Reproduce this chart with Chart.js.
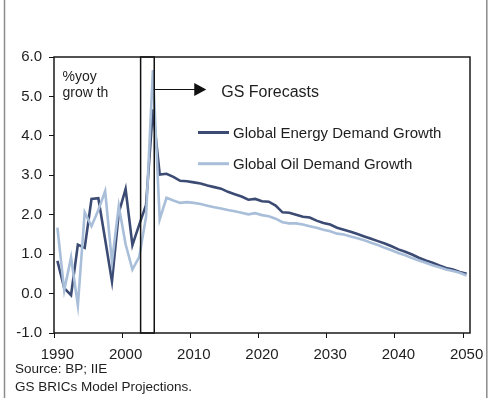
<!DOCTYPE html>
<html>
<head>
<meta charset="utf-8">
<style>
  html, body { margin: 0; padding: 0; background: #ffffff; }
  #wrap { position: relative; width: 498px; height: 398px; }
</style>
<script src="https://cdn.jsdelivr.net/npm/chart.js@4.4.1/dist/chart.umd.min.js"></script>
</head>
<body>
<div id="wrap"><canvas id="chart" width="498" height="398"></canvas></div>
<script>
// Years on the category axis, 1990 to 2050
const years = Array.from({ length: 61 }, (_, i) => String(1990 + i));

// Global energy demand growth, % yoy
const energyGrowth = [
  0.83, 0.14, -0.04, 1.24, 1.16, 2.40, 2.42, 1.37, 0.31, 2.05,
  2.65, 1.23, 1.75, 2.25, 4.67, 3.02, 3.04, 2.96, 2.86, 2.85,
  2.82, 2.79, 2.74, 2.70, 2.66, 2.58, 2.52, 2.46, 2.38, 2.40,
  2.34, 2.33, 2.23, 2.06, 2.05, 2.00, 1.95, 1.93, 1.85, 1.79,
  1.75, 1.67, 1.62, 1.57, 1.51, 1.45, 1.39, 1.33, 1.27, 1.20,
  1.12, 1.06, 0.99, 0.91, 0.84, 0.78, 0.71, 0.65, 0.61, 0.55,
  0.50
];

// Global oil demand growth, % yoy
const oilGrowth = [
  1.67, 0.08, 0.92, -0.30, 2.06, 1.71, 2.12, 2.60, 0.80, 2.22,
  1.25, 0.61, 0.93, 1.95, 5.67, 1.88, 2.43, 2.36, 2.30, 2.32,
  2.30, 2.27, 2.23, 2.19, 2.16, 2.12, 2.09, 2.05, 2.01, 2.04,
  1.99, 1.96, 1.90, 1.81, 1.78, 1.78, 1.75, 1.71, 1.67, 1.62,
  1.58, 1.52, 1.50, 1.45, 1.40, 1.35, 1.29, 1.23, 1.16, 1.10,
  1.03, 0.97, 0.90, 0.84, 0.78, 0.72, 0.67, 0.61, 0.57, 0.53,
  0.46
];

const seriesNames = ['Global Energy Demand Growth', 'Global Oil Demand Growth'];
const yTickValues = [-1, 0, 1, 2, 3, 4, 5, 6];
// Years spanned by the boxed start of the forecast period
const forecastWindow = [2002.2, 2004.2];

const FONT = "'Liberation Sans', Arial, sans-serif";
const INK = '#1e1e1e';
const DARK = '#3c4b73';
const LIGHT = '#a8bed9';

const yearIndex = y => y - Number(years[0]);

// Page frame, plot frame, forecast box, arrow, legend and notes
const decorations = {
  id: 'decorations',
  beforeDraw(chart) {
    const ctx = chart.ctx;
    ctx.save();
    ctx.strokeStyle = '#8c8c8c';
    ctx.lineWidth = 1.5;
    ctx.beginPath();
    ctx.moveTo(4.5, 0); ctx.lineTo(4.5, chart.height);
    ctx.moveTo(486.8, 0); ctx.lineTo(486.8, chart.height);
    ctx.stroke();
    ctx.restore();
  },
  afterDatasetsDraw(chart) {
    const ctx = chart.ctx;
    const a = chart.chartArea;
    const x = chart.scales.x;

    ctx.save();
    // forecast box
    const bx0 = x.getPixelForValue(yearIndex(forecastWindow[0]));
    const bx1 = x.getPixelForValue(yearIndex(forecastWindow[1]));
    ctx.strokeStyle = '#111';
    ctx.lineWidth = 1.5;
    ctx.strokeRect(bx0, a.top, bx1 - bx0, a.bottom - a.top);

    // arrow pointing into the forecast years
    const ay = a.top + 32.5;
    const tip = bx1 + 52;
    ctx.lineWidth = 1;
    ctx.beginPath();
    ctx.moveTo(bx1, ay); ctx.lineTo(tip - 11, ay);
    ctx.stroke();
    ctx.fillStyle = '#111';
    ctx.beginPath();
    ctx.moveTo(tip, ay); ctx.lineTo(tip - 12, ay - 6.5); ctx.lineTo(tip - 12, ay + 6.5);
    ctx.closePath();
    ctx.fill();

    ctx.fillStyle = INK;
    ctx.textBaseline = 'alphabetic';
    ctx.textAlign = 'left';
    ctx.font = '16px ' + FONT;
    ctx.fillText('GS Forecasts', tip + 15, ay + 7.3);

    // unit note
    ctx.font = '14px ' + FONT;
    ctx.fillText('%yoy', a.left + 8.5, 81);
    ctx.fillText('grow th', a.left + 8.5, 96.5);

    // legend
    ctx.font = '15px ' + FONT;
    const rows = [132.5, 163.7];
    chart.data.datasets.forEach((ds, i) => {
      ctx.strokeStyle = ds.borderColor;
      ctx.lineWidth = 3;
      ctx.beginPath();
      ctx.moveTo(198, rows[i]); ctx.lineTo(229, rows[i]);
      ctx.stroke();
      ctx.fillStyle = INK;
      ctx.textBaseline = 'middle';
      ctx.fillText(ds.label, 233, rows[i] + 1);
    });

    // plot frame
    ctx.strokeStyle = '#1a1a1a';
    ctx.lineWidth = 1.5;
    ctx.strokeRect(a.left, a.top, a.right - a.left, a.bottom - a.top);

    // source notes
    ctx.fillStyle = INK;
    ctx.textBaseline = 'alphabetic';
    ctx.font = '13.5px ' + FONT;
    ctx.fillText('Source: BP; IIE', 15, 372.5);
    ctx.fillText('GS BRICs Model Projections.', 15, 390.5);
    ctx.restore();
  }
};

new Chart(document.getElementById('chart'), {
  type: 'line',
  data: {
    labels: years,
    datasets: [
      { label: seriesNames[0], data: energyGrowth, borderColor: DARK, borderWidth: 2.6,
        pointRadius: 0, tension: 0, fill: false, order: 1 },
      { label: seriesNames[1], data: oilGrowth, borderColor: LIGHT, borderWidth: 2.6,
        pointRadius: 0, tension: 0, fill: false, order: 0 }
    ]
  },
  options: {
    responsive: false,
    animation: false,
    devicePixelRatio: 1,
    layout: { padding: { left: 0, top: 57, right: 28, bottom: 0 } },
    plugins: { legend: { display: false }, tooltip: { enabled: false } },
    scales: {
      x: {
        type: 'category',
        offset: true,
        grid: {
          offset: true,
          drawOnChartArea: false,
          tickLength: 5,
          tickWidth: 1,
          color: c => (years[c.index] !== undefined && Number(years[c.index]) % 10 === 0) ? '#111' : 'rgba(0,0,0,0)'
        },
        border: { display: false },
        ticks: {
          autoSkip: false,
          maxRotation: 0,
          minRotation: 0,
          padding: 8,
          color: INK,
          font: { family: FONT, size: 15 },
          callback: (v, i) => (Number(years[i]) % 10 === 0 ? years[i] : '')
        },
        afterFit: s => { s.height = 65; }
      },
      y: {
        min: -1,
        max: 6,
        afterBuildTicks: s => { s.ticks = yTickValues.map(v => ({ value: v })); },
        grid: { drawOnChartArea: false, tickLength: 5, color: '#111' },
        border: { display: false },
        ticks: {
          padding: 7,
          color: INK,
          font: { family: FONT, size: 15 },
          callback: v => Number(v).toFixed(1)
        },
        afterFit: s => { s.width = 54; }
      }
    }
  },
  plugins: [decorations]
});
</script>
</body>
</html>
